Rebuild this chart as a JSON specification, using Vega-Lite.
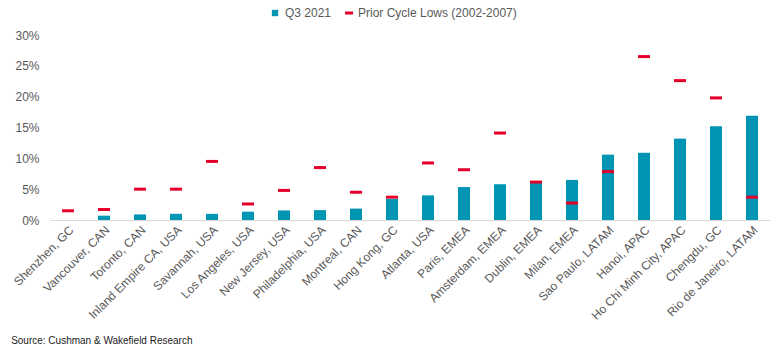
{
  "$schema": "https://vega.github.io/schema/vega-lite/v6.json",
  "width": 720,
  "height": 185,
  "autosize": "none",
  "padding": {"left": 50, "top": 35, "right": 6, "bottom": 130},
  "background": "white",
  "config": {
    "view": {"stroke": null},
    "font": "Liberation Sans",
    "axis": {"labelFont": "Liberation Sans", "labelColor": "#595959", "labelFontSize": 12, "grid": false, "ticks": false}
  },
  "title": {
    "text": "Source: Cushman & Wakefield Research",
    "orient": "bottom",
    "anchor": "start",
    "frame": "bounds",
    "fontSize": 10,
    "fontWeight": "normal",
    "color": "#1a1a1a",
    "offset": 14
  },
  "data": {
    "values": [
      {"city": "Shenzhen, GC", "q3": 0.0, "prior": 0.015},
      {"city": "Vancouver, CAN", "q3": 0.007, "prior": 0.017},
      {"city": "Toronto, CAN", "q3": 0.009, "prior": 0.05},
      {"city": "Inland Empire CA, USA", "q3": 0.01, "prior": 0.05},
      {"city": "Savannah, USA", "q3": 0.01, "prior": 0.095},
      {"city": "Los Angeles, USA", "q3": 0.0135, "prior": 0.026},
      {"city": "New Jersey, USA", "q3": 0.0155, "prior": 0.048},
      {"city": "Philadelphia, USA", "q3": 0.016, "prior": 0.085},
      {"city": "Montreal, CAN", "q3": 0.0185, "prior": 0.045},
      {"city": "Hong Kong, GC", "q3": 0.034, "prior": 0.037},
      {"city": "Atlanta, USA", "q3": 0.04, "prior": 0.0925},
      {"city": "Paris, EMEA", "q3": 0.0535, "prior": 0.0815},
      {"city": "Amsterdam, EMEA", "q3": 0.058, "prior": 0.141},
      {"city": "Dublin, EMEA", "q3": 0.0615, "prior": 0.0615},
      {"city": "Milan, EMEA", "q3": 0.065, "prior": 0.0275},
      {"city": "Sao Paulo, LATAM", "q3": 0.106, "prior": 0.0785},
      {"city": "Hanoi, APAC", "q3": 0.109, "prior": 0.265},
      {"city": "Ho Chi Minh City, APAC", "q3": 0.132, "prior": 0.226},
      {"city": "Chengdu, GC", "q3": 0.152, "prior": 0.198},
      {"city": "Rio de Janeiro, LATAM", "q3": 0.169, "prior": 0.037}
    ]
  },
  "encoding": {
    "x": {
      "field": "city",
      "type": "nominal",
      "sort": null,
      "title": null,
      "scale": {"paddingInner": 0, "paddingOuter": 0},
      "axis": {"labelAngle": -45, "domainColor": "#d9d9d9", "labelPadding": 4}
    }
  },
  "layer": [
    {
      "mark": {"type": "bar", "size": 12},
      "encoding": {
        "y": {
          "field": "q3",
          "type": "quantitative",
          "title": null,
          "scale": {"domain": [0, 0.3]},
          "axis": {"format": ".0%", "values": [0, 0.05, 0.1, 0.15, 0.2, 0.25, 0.3], "labelOverlap": false, "domain": false, "labelPadding": 11}
        },
        "fill": {
          "datum": "Q3 2021",
          "scale": {"range": ["#0095B3"]},
          "legend": {"title": null, "orient": "none", "legendX": 219, "legendY": -28, "symbolType": "square", "symbolSize": 40, "labelFontSize": 12, "labelColor": "#595959", "labelOffset": 4}
        }
      }
    },
    {
      "mark": {"type": "tick", "thickness": 3, "size": 12, "orient": "horizontal", "opacity": 1},
      "encoding": {
        "y": {
          "field": "prior",
          "type": "quantitative",
          "title": null,
          "axis": {"format": ".0%", "values": [0, 0.05, 0.1, 0.15, 0.2, 0.25, 0.3], "labelOverlap": false, "domain": false, "labelPadding": 11}
        },
        "color": {
          "datum": "Prior Cycle Lows (2002-2007)",
          "scale": {"range": ["#E4002B"]},
          "legend": {
            "title": null, "orient": "none", "legendX": 293, "legendY": -28,
            "symbolType": "M-1,-0.375H1V0.375H-1Z", "symbolSize": 64, "symbolOpacity": 1,
            "labelFontSize": 12, "labelColor": "#595959", "labelOffset": 3
          }
        }
      }
    }
  ],
  "resolve": {"scale": {"y": "shared"}}
}
